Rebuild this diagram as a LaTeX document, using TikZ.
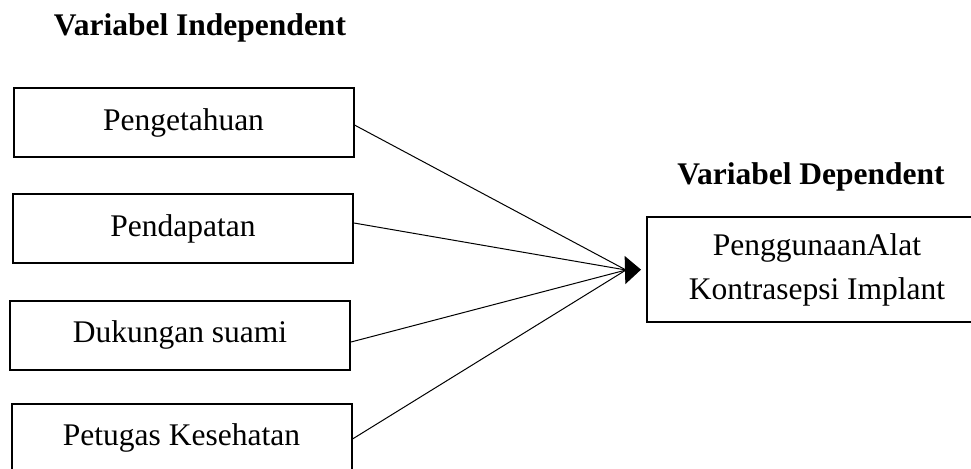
\documentclass[tikz,border=0pt]{standalone}
\usepackage{fontspec}
\setmainfont{Liberation Serif}
\usetikzlibrary{arrows.meta}

\begin{document}
\begin{tikzpicture}[x=0.5pt,y=-0.5pt,
  varbox/.style={draw,line width=1pt,minimum width=170pt,minimum height=34.5pt,
    inner sep=0pt,font=\fontsize{15.75}{22}\selectfont},
  vartitle/.style={font=\fontsize{15.75}{19}\selectfont\bfseries,inner sep=0pt},
  link/.style={line width=0.5pt}]
\useasboundingbox (0,0) rectangle (971,468);
% titles
\node[vartitle] (indep) at (200,28) {Variabel Independent};
\node[vartitle] (dep) at (811,177) {Variabel Dependent};
% independent variables
\node[varbox] (pengetahuan) at (183.5,122.5) {Pengetahuan};
\node[varbox] (pendapatan) at (183,228.5) {Pendapatan};
\node[varbox] (dukungan) at (180,335) {Dukungan suami};
\node[varbox] (petugas) at (181.5,438) {Petugas Kesehatan};
% dependent variable
\node[varbox,minimum width=170pt,minimum height=52.5pt,align=center] (implant) at (817,269.5)
  {PenggunaanAlat\\Kontrasepsi Implant};
% connectors
\coordinate (hub) at (626,270);
\draw[link] ([yshift=-1.25pt]pengetahuan.east) -- (hub);
\draw[link] ([yshift=2.75pt]pendapatan.east) -- (hub);
\draw[link] ([yshift=-3.5pt]dukungan.east) -- (hub);
\draw[link] ([yshift=-0.5pt]petugas.east) -- (hub);
\draw[link,-{Triangle[length=8pt,width=14pt]},shorten >=2.5pt] (hub) -- (implant.west);
\end{tikzpicture}
\end{document}
